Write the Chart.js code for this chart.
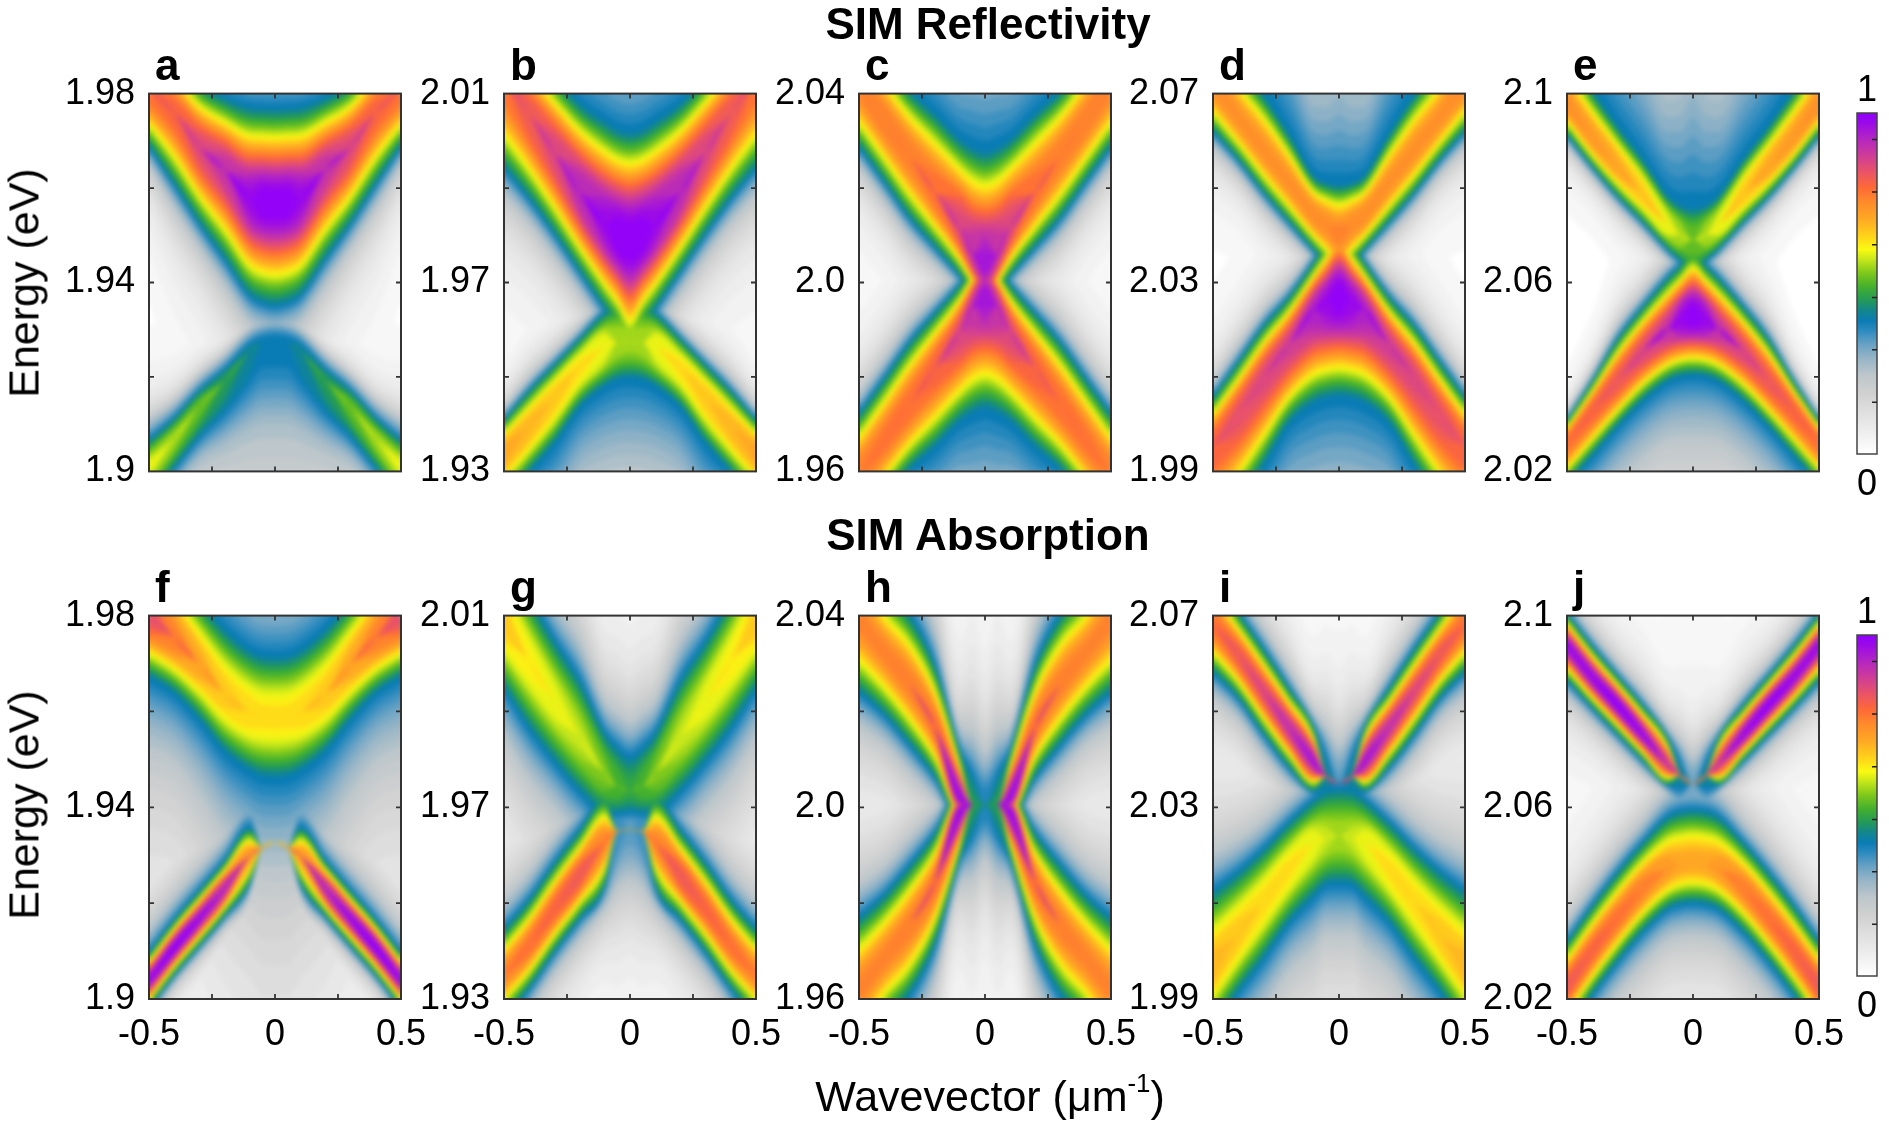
<!DOCTYPE html>
<html><head><meta charset="utf-8">
<script src="https://cdn.jsdelivr.net/npm/chart.js@4.4.1/dist/chart.umd.min.js"></script>
<style>
html,body{margin:0;padding:0;background:#fff;}
body{width:1889px;height:1123px;position:relative;overflow:hidden;font-family:'Liberation Sans',Arial,Helvetica,sans-serif;}
.t{position:absolute;white-space:nowrap;color:#000;line-height:1;}
.b{font-weight:bold;}
sup{font-size:0.6em;vertical-align:0.75em;line-height:0;}
</style></head><body>
<script>
// ---------------- data ----------------
const K = [-0.5,-0.4,-0.3,-0.2,-0.1,-0.05,0,0.05,0.1,0.2,0.3,0.4,0.5];
const xTickVals = [-0.5,-0.25,0,0.25,0.5];
const xTickLabels = ['-0.5','','0','','0.5'];
const eMin = [1.90,1.93,1.96,1.99,2.02];
const eMax = [1.98,2.01,2.04,2.07,2.10];
const yTicks = [[1.90,1.92,1.94,1.96,1.98],[1.93,1.95,1.97,1.99,2.01],[1.96,1.98,2.00,2.02,2.04],[1.99,2.01,2.03,2.05,2.07],[2.02,2.04,2.06,2.08,2.10]];
const yLabels = [['1.9','','1.94','','1.98'],['1.93','','1.97','','2.01'],['1.96','','2.0','','2.04'],['1.99','','2.03','','2.07'],['2.02','','2.06','','2.1']];
const panelLetters = ['a','b','c','d','e','f','g','h','i','j'];
const rowTitles = ['SIM Reflectivity','SIM Absorption'];
const cbRange = [0,1];
const cbTicks = [0.152,0.306,0.459,0.614,0.768,0.922];

// band ridge (Mid), lower/upper edge (Lo/Hi, eV) and ridge value (Pk) at each K
const aUpMid=[1.9807,1.9760,1.9687,1.9639,1.9577,1.9570,1.9567,1.9570,1.9577,1.9639,1.9687,1.9760,1.9807];
const aUpLo =[1.9689,1.9608,1.9525,1.9450,1.9373,1.9358,1.9352,1.9358,1.9373,1.9450,1.9525,1.9608,1.9689];
const aUpHi =[1.9937,1.9880,1.9820,1.9790,1.9770,1.9768,1.9767,1.9768,1.9770,1.9790,1.9820,1.9880,1.9937];
const aUpPk =[0.78,0.80,0.85,0.90,0.97,1.00,1.00,1.00,0.97,0.90,0.85,0.80,0.78];
const aDnMid=[1.9008,1.9070,1.9138,1.9193,1.9255,1.9272,1.9275,1.9272,1.9255,1.9193,1.9138,1.9070,1.9008];
const aDnLo =[1.889,1.896,1.902,1.905,1.908,1.909,1.909,1.909,1.908,1.905,1.902,1.896,1.889];
const aDnHi =[1.9105,1.9145,1.9200,1.9245,1.9300,1.9315,1.9320,1.9315,1.9300,1.9245,1.9200,1.9145,1.9105];
const aDnPk =[0.60,0.56,0.52,0.46,0.42,0.40,0.40,0.40,0.42,0.46,0.52,0.56,0.60];

const bUpMid=[2.0133,2.0057,1.9975,1.9892,1.9823,1.9799,1.9789,1.9799,1.9823,1.9892,1.9975,2.0057,2.0133];
const bUpLo =[1.9944,1.9878,1.9803,1.9723,1.9644,1.9605,1.9550,1.9605,1.9644,1.9723,1.9803,1.9878,1.9944];
const bUpHi =[2.0243,2.0188,2.0133,2.0078,2.0040,2.0023,2.0016,2.0023,2.0040,2.0078,2.0133,2.0188,2.0243];
const bUpPk =[0.78,0.82,0.86,0.92,0.97,1.00,1.00,1.00,0.97,0.92,0.86,0.82,0.78];
const bDnMid=[1.9341,1.9396,1.9458,1.9520,1.9565,1.9573,1.9575,1.9573,1.9565,1.9520,1.9458,1.9396,1.9341];
const bDnLo =[1.9238,1.9300,1.9362,1.9438,1.9482,1.9496,1.9500,1.9496,1.9482,1.9438,1.9362,1.9300,1.9238];
const bDnHi =[1.9410,1.9472,1.9527,1.9582,1.9637,1.9655,1.9665,1.9655,1.9637,1.9582,1.9527,1.9472,1.9410];
const bDnPk =[0.70,0.68,0.66,0.63,0.60,0.56,0.55,0.56,0.60,0.63,0.66,0.68,0.70];

const cUpMid=[2.0420,2.0344,2.0268,2.0192,2.0115,2.0060,2.0034,2.0060,2.0115,2.0192,2.0268,2.0344,2.0420];
const cUpLo =[2.0288,2.0213,2.0137,2.0075,2.0013,1.9975,1.9930,1.9975,2.0013,2.0075,2.0137,2.0213,2.0288];
const cUpHi =[2.0522,2.0467,2.0405,2.0357,2.0302,2.0285,2.0275,2.0285,2.0302,2.0357,2.0405,2.0467,2.0522];
const cUpPk =[0.75,0.76,0.76,0.78,0.85,0.90,0.95,0.90,0.85,0.78,0.76,0.76,0.75];
const cDnMid=[1.9590,1.9666,1.9742,1.9818,1.9895,1.9950,1.9976,1.9950,1.9895,1.9818,1.9742,1.9666,1.9590];
const cDnLo =[1.9488,1.9543,1.9605,1.9653,1.9708,1.9725,1.9735,1.9725,1.9708,1.9653,1.9605,1.9543,1.9488];
const cDnHi =[1.9722,1.9797,1.9873,1.9935,1.9997,2.0035,2.0080,2.0035,1.9997,1.9935,1.9873,1.9797,1.9722];
const cDnPk =[0.76,0.77,0.78,0.80,0.85,0.90,0.95,0.90,0.85,0.80,0.78,0.77,0.76];

const dUpMid=[2.0723,2.0648,2.0579,2.0511,2.0442,2.0421,2.0401,2.0421,2.0442,2.0511,2.0579,2.0648,2.0723];
const dUpLo =[2.0620,2.0559,2.0490,2.0428,2.0367,2.0335,2.0300,2.0335,2.0367,2.0428,2.0490,2.0559,2.0620];
const dUpHi =[2.0843,2.0758,2.0696,2.0614,2.0524,2.0510,2.0505,2.0510,2.0524,2.0614,2.0696,2.0758,2.0843];
const dUpPk =[0.74,0.73,0.73,0.73,0.74,0.74,0.75,0.74,0.74,0.73,0.73,0.73,0.74];
const dDnMid=[1.9955,2.0023,2.0099,2.0168,2.0243,2.0260,2.0270,2.0260,2.0243,2.0168,2.0099,2.0023,1.9955];
const dDnLo =[1.9756,1.9831,1.9914,2.0003,2.0047,2.0057,2.0061,2.0057,2.0047,2.0003,1.9914,1.9831,1.9756];
const dDnHi =[2.0058,2.0133,2.0209,2.0270,2.0346,2.0390,2.0440,2.0390,2.0346,2.0270,2.0209,2.0133,2.0058];
const dDnPk =[0.80,0.83,0.85,0.87,0.93,0.97,1.00,0.97,0.93,0.87,0.85,0.83,0.80];

const eUpMid=[2.0981,2.0905,2.0844,2.0786,2.0721,2.0700,2.0690,2.0700,2.0721,2.0786,2.0844,2.0905,2.0981];
const eUpLo =[2.0912,2.0844,2.0782,2.0727,2.0669,2.0645,2.0620,2.0645,2.0669,2.0727,2.0782,2.0844,2.0912];
const eUpHi =[2.1075,2.1005,2.0930,2.0860,2.0782,2.0762,2.0755,2.0762,2.0782,2.0860,2.0930,2.1005,2.1075];
const eUpPk =[0.74,0.72,0.70,0.66,0.60,0.56,0.52,0.56,0.60,0.66,0.70,0.72,0.74];
const eDnMid=[2.0262,2.0330,2.0392,2.0453,2.0501,2.0522,2.0529,2.0522,2.0501,2.0453,2.0392,2.0330,2.0262];
const eDnLo =[2.0173,2.0234,2.0296,2.0351,2.0392,2.0402,2.0405,2.0402,2.0392,2.0351,2.0296,2.0234,2.0173];
const eDnHi =[2.0310,2.0392,2.0481,2.0549,2.0611,2.0638,2.0670,2.0638,2.0611,2.0549,2.0481,2.0392,2.0310];
const eDnPk =[0.78,0.80,0.82,0.85,0.90,0.97,1.00,0.97,0.90,0.85,0.82,0.80,0.78];

const fUpMid=[1.9801,1.9753,1.9698,1.9636,1.9598,1.9590,1.9588,1.9590,1.9598,1.9636,1.9698,1.9753,1.9801];
const fUpLo =[1.9674,1.9640,1.9585,1.9519,1.9478,1.9466,1.9464,1.9466,1.9478,1.9519,1.9585,1.9640,1.9674];
const fUpHi =[1.9932,1.9891,1.9829,1.9770,1.9726,1.9714,1.9712,1.9714,1.9726,1.9770,1.9829,1.9891,1.9932];
const fUpPk =[0.83,0.76,0.70,0.66,0.64,0.63,0.63,0.63,0.64,0.66,0.70,0.76,0.83];
const fDnMid=[1.9038,1.9107,1.9168,1.9230,1.9299,1.9316,1.9327,1.9316,1.9299,1.9230,1.9168,1.9107,1.9038];
const fDnLo =[1.8980,1.9049,1.9110,1.9172,1.9241,1.9258,1.9269,1.9258,1.9241,1.9172,1.9110,1.9049,1.8980];
const fDnHi =[1.9096,1.9165,1.9226,1.9288,1.9357,1.9374,1.9385,1.9374,1.9357,1.9288,1.9226,1.9165,1.9096];
const fDnPk =[0.97,1.00,0.97,0.92,0.72,0.20,0.10,0.20,0.72,0.92,0.97,1.00,0.97];

const gUpMid=[2.0094,2.0005,1.9922,1.9846,1.9771,1.9743,1.9736,1.9743,1.9771,1.9846,1.9922,2.0005,2.0094];
const gUpLo =[1.9950,1.9867,1.9798,1.9736,1.9690,1.9684,1.9681,1.9684,1.9690,1.9736,1.9798,1.9867,1.9950];
const gUpHi =[2.0225,2.0136,2.0046,1.9963,1.9853,1.9828,1.9819,1.9828,1.9853,1.9963,2.0046,2.0136,2.0225];
const gUpPk =[0.66,0.62,0.60,0.57,0.53,0.50,0.47,0.50,0.53,0.57,0.60,0.62,0.66];
const gDnMid=[1.9350,1.9412,1.9488,1.9557,1.9626,1.9650,1.9653,1.9650,1.9626,1.9557,1.9488,1.9412,1.9350];
const gDnLo =[1.9260,1.9322,1.9398,1.9467,1.9536,1.9560,1.9563,1.9560,1.9536,1.9467,1.9398,1.9322,1.9260];
const gDnHi =[1.9445,1.9507,1.9583,1.9652,1.9721,1.9745,1.9748,1.9745,1.9721,1.9652,1.9583,1.9507,1.9445];
const gDnPk =[0.75,0.78,0.80,0.82,0.75,0.36,0.33,0.36,0.75,0.82,0.80,0.78,0.75];

const hUpMid=[2.0393,2.0324,2.0256,2.0167,2.0019,2.0005,2.0005,2.0005,2.0019,2.0167,2.0256,2.0324,2.0393];
const hUpLo =[2.0242,2.0194,2.0132,2.0064,1.9975,1.9980,1.9985,1.9980,1.9975,2.0064,2.0132,2.0194,2.0242];
const hUpHi =[2.0530,2.0455,2.0400,2.0297,2.0118,2.0090,2.0080,2.0090,2.0118,2.0297,2.0400,2.0455,2.0530];
const hUpPk =[0.75,0.75,0.76,0.78,0.97,0.45,0.38,0.45,0.97,0.78,0.76,0.75,0.75];
const hDnMid=[1.9617,1.9686,1.9754,1.9843,1.9991,2.0005,2.0005,2.0005,1.9991,1.9843,1.9754,1.9686,1.9617];
const hDnLo =[1.9480,1.9555,1.9610,1.9713,1.9892,1.9920,1.9930,1.9920,1.9892,1.9713,1.9610,1.9555,1.9480];
const hDnHi =[1.9768,1.9816,1.9878,1.9946,2.0035,2.0030,2.0025,2.0030,2.0035,1.9946,1.9878,1.9816,1.9768];
const hDnPk =[0.75,0.75,0.76,0.78,0.97,0.45,0.38,0.45,0.97,0.78,0.76,0.75,0.75];

const iUpMid=[2.0683,2.0618,2.0542,2.0467,2.0394,2.0364,2.0350,2.0364,2.0394,2.0467,2.0542,2.0618,2.0683];
const iUpLo =[2.0583,2.0528,2.0453,2.0384,2.0333,2.0310,2.0300,2.0310,2.0333,2.0384,2.0453,2.0528,2.0583];
const iUpHi =[2.0785,2.0707,2.0631,2.0550,2.0467,2.0430,2.0420,2.0430,2.0467,2.0550,2.0631,2.0707,2.0785];
const iUpPk =[0.78,0.82,0.85,0.90,0.95,0.42,0.33,0.42,0.95,0.90,0.85,0.82,0.78];
const iDnMid=[1.9965,2.0034,2.0103,2.0171,2.0226,2.0236,2.0240,2.0236,2.0226,2.0171,2.0103,2.0034,1.9965];
const iDnLo =[1.9841,1.9917,1.9986,2.0061,2.0116,2.0141,2.0144,2.0141,2.0116,2.0061,1.9986,1.9917,1.9841];
const iDnHi =[2.0123,2.0164,2.0212,2.0267,2.0315,2.0333,2.0336,2.0333,2.0315,2.0267,2.0212,2.0164,2.0123];
const iDnPk =[0.68,0.66,0.64,0.63,0.60,0.57,0.56,0.57,0.60,0.63,0.64,0.66,0.68];

const jUpMid=[2.0940,2.0872,2.0814,2.0752,2.0690,2.0666,2.0649,2.0666,2.0690,2.0752,2.0814,2.0872,2.0940];
const jUpLo =[2.0865,2.0807,2.0752,2.0697,2.0646,2.0620,2.0600,2.0620,2.0646,2.0697,2.0752,2.0807,2.0865];
const jUpHi =[2.1005,2.0937,2.0875,2.0814,2.0745,2.0712,2.0700,2.0712,2.0745,2.0814,2.0875,2.0937,2.1005];
const jUpPk =[0.97,0.98,1.00,0.97,0.88,0.42,0.32,0.42,0.88,0.97,1.00,0.98,0.97];
const jDnMid=[2.0224,2.0300,2.0368,2.0430,2.0471,2.0481,2.0485,2.0481,2.0471,2.0430,2.0368,2.0300,2.0224];
const jDnLo =[2.0135,2.0210,2.0279,2.0341,2.0389,2.0399,2.0402,2.0399,2.0389,2.0341,2.0279,2.0210,2.0135];
const jDnHi =[2.0320,2.0395,2.0464,2.0526,2.0580,2.0591,2.0594,2.0591,2.0580,2.0526,2.0464,2.0395,2.0320];
const jDnPk =[0.82,0.80,0.78,0.76,0.72,0.70,0.70,0.70,0.72,0.76,0.78,0.80,0.82];

const PANELS = [
  [[aUpMid,aUpLo,aUpHi,aUpPk],[aDnMid,aDnLo,aDnHi,aDnPk]],
  [[bUpMid,bUpLo,bUpHi,bUpPk],[bDnMid,bDnLo,bDnHi,bDnPk]],
  [[cUpMid,cUpLo,cUpHi,cUpPk],[cDnMid,cDnLo,cDnHi,cDnPk]],
  [[dUpMid,dUpLo,dUpHi,dUpPk],[dDnMid,dDnLo,dDnHi,dDnPk]],
  [[eUpMid,eUpLo,eUpHi,eUpPk],[eDnMid,eDnLo,eDnHi,eDnPk]],
  [[fUpMid,fUpLo,fUpHi,fUpPk],[fDnMid,fDnLo,fDnHi,fDnPk]],
  [[gUpMid,gUpLo,gUpHi,gUpPk],[gDnMid,gDnLo,gDnHi,gDnPk]],
  [[hUpMid,hUpLo,hUpHi,hUpPk],[hDnMid,hDnLo,hDnHi,hDnPk]],
  [[iUpMid,iUpLo,iUpHi,iUpPk],[iDnMid,iDnLo,iDnHi,iDnPk]],
  [[jUpMid,jUpLo,jUpHi,jUpPk],[jDnMid,jDnLo,jDnHi,jDnPk]]
];

// ---------------- style ----------------
// per band: [profile exponent, lower-side tail stretch, upper-side tail stretch, value at Lo/Hi edge]
const STY = [
  [[2.3,0.7,1.5,0.4],[2.0,2.0,0.6,0.25]],
  [[2.5,0.7,2.5,0.4],[2.5,4.0,0.7,0.4]],
  [[2.5,0.7,3.0,0.4],[2.5,3.0,0.7,0.4]],
  [[2.5,0.7,6.0,0.4],[2.5,3.5,0.7,0.4]],
  [[2.5,0.7,7.0,0.4],[2.5,3.0,0.7,0.4]],
  [[2.2,2.5,2.0,0.4],[2.2,0.8,2.0,0.4]],
  [[2.2,1.2,1.0,0.4],[2.2,1.0,1.2,0.4]],
  [[2.2,0.9,1.2,0.4],[2.2,1.2,0.9,0.4]],
  [[2.2,1.0,1.0,0.4],[2.2,1.5,0.9,0.4]],
  [[2.2,1.0,1.0,0.4],[2.2,1.5,0.9,0.4]]
];
const CM = [[0,'#ffffff'],[0.06,'#efefef'],[0.12,'#e0e0e0'],[0.18,'#d0d0d0'],[0.23,'#bec7cb'],[0.28,'#97b5c6'],
  [0.32,'#6aa3c4'],[0.36,'#2f8cbf'],[0.39,'#0a7cb5'],[0.42,'#12868e'],[0.45,'#22995a'],[0.49,'#43b02e'],
  [0.53,'#7dc81c'],[0.57,'#c5e61a'],[0.60,'#fafa12'],[0.64,'#ffd21a'],[0.69,'#ffa824'],[0.74,'#ff8a2a'],
  [0.78,'#ff6a36'],[0.83,'#e8526a'],[0.88,'#cc3a9c'],[0.93,'#b022c8'],[0.97,'#9c0ae8'],[1.0,'#9000ff']];
const LSTEP = 0.02;
const LV = []; for (let q = 1; q * LSTEP < 0.995; q++) LV.push(q * LSTEP);
const FONT = "'Liberation Sans', Arial, Helvetica, sans-serif";
const COLX = [149, 504, 859, 1213, 1567], PW = 252, ROWY = [88, 610], PH = 389;
const YW = 125, PT = 30, PR = 45;

function hex(c){return [parseInt(c.substr(1,2),16),parseInt(c.substr(3,2),16),parseInt(c.substr(5,2),16)];}
function cmap(v){
  v = Math.max(0, Math.min(1, v));
  for (let i = 1; i < CM.length; i++) {
    if (v <= CM[i][0]) {
      const a = CM[i-1], b = CM[i], f = (v - a[0]) / (b[0] - a[0]);
      const ca = hex(a[1]), cb = hex(b[1]);
      return 'rgb(' + ca.map((x, j) => Math.round(x + (cb[j] - x) * f)).join(',') + ')';
    }
  }
  return CM[CM.length-1][1];
}
function off(I, v, D, p, s, edge){
  if (I <= v) return 0;
  const te = Math.pow(Math.max(I / edge - 1, 0.3), 1 / p);
  const t = Math.pow(I / v - 1, 1 / p);
  const r = t / te;
  return D * (r <= 1 ? r : 1 + (r - 1) * s);
}
function txt(html, css, cls){
  const d = document.createElement('div'); d.className = 't ' + (cls || ''); d.innerHTML = html; d.style.cssText = css; document.body.appendChild(d);
}

Chart.defaults.font.family = FONT;
Chart.defaults.color = '#000';

// soften the contour steps inside the plot area (edge pixels replicated so borders do not fade)
const smoothPlugin = { id:'smooth', afterDatasetsDraw(c){
  const a = c.chartArea, r = c.currentDevicePixelRatio || 1;
  const sx = Math.round(a.left * r), sy = Math.round(a.top * r);
  const w = Math.round((a.right - a.left) * r), h = Math.round((a.bottom - a.top) * r), pad = Math.round(10 * r);
  const off = document.createElement('canvas'); off.width = w + 2 * pad; off.height = h + 2 * pad;
  const o = off.getContext('2d');
  o.fillStyle = '#fff'; o.fillRect(0, 0, off.width, off.height);
  o.drawImage(c.canvas, sx, sy, w, h, pad, pad, w, h);
  o.drawImage(c.canvas, sx, sy, 2, h, 0, pad, pad, h);
  o.drawImage(c.canvas, sx + w - 2, sy, 2, h, pad + w, pad, pad, h);
  o.drawImage(off, pad, pad, w, 2, pad, 0, w, pad);
  o.drawImage(off, pad, pad + h - 2, w, 2, pad, pad + h, w, pad);
  const ctx = c.ctx; ctx.save(); ctx.setTransform(1, 0, 0, 1, 0, 0);
  ctx.clearRect(sx, sy, w, h);
  ctx.beginPath(); ctx.rect(sx, sy, w, h); ctx.clip();
  ctx.filter = 'blur(' + (2.6 * r) + 'px)';
  ctx.drawImage(off, sx - pad, sy - pad);
  ctx.restore();
}};
const framePlugin = { id:'frame',
  afterDraw(c){
    const {ctx, chartArea:a} = c, x = c.scales.x, y = c.scales.y;
    ctx.save(); ctx.strokeStyle = '#333'; ctx.lineWidth = 2;
    ctx.strokeRect(a.left, a.top, a.right - a.left, a.bottom - a.top);
    ctx.lineWidth = 1.8; ctx.beginPath();
    x.ticks.forEach(t => { const px = x.getPixelForValue(t.value); if (px < a.left + 2 || px > a.right - 2) return;
      ctx.moveTo(px, a.bottom); ctx.lineTo(px, a.bottom - 5); ctx.moveTo(px, a.top); ctx.lineTo(px, a.top + 5); });
    y.ticks.forEach(t => { const py = y.getPixelForValue(t.value); if (py < a.top + 2 || py > a.bottom - 2) return;
      ctx.moveTo(a.left, py); ctx.lineTo(a.left + 5, py); ctx.moveTo(a.right, py); ctx.lineTo(a.right - 5, py); });
    ctx.stroke(); ctx.restore();
  } };

PANELS.forEach((bands, n) => {
  const col = n % 5, row = Math.floor(n / 5);
  const xh = row ? 70 : 30;
  const cv = document.createElement('canvas');
  cv.width = YW + PW + PR; cv.height = PT + PH + xh;
  cv.style.cssText = 'position:absolute;left:' + (COLX[col] - YW) + 'px;top:' + (ROWY[row] - PT) + 'px;';
  document.body.appendChild(cv);
  const datasets = [];
  for (let li = LV.length - 1; li >= 0; li--) {
    const v = LV[li], color = cmap(Math.min(1, v + LSTEP / 2));
    bands.forEach((b, bi) => {
      const [mid, lo, hi, pk] = b, [p, sLo, sHi, edge] = STY[n][bi];
      const up = K.map((k, i) => ({x:k, y: mid[i] + off(pk[i], v, Math.max(hi[i] - mid[i], 5e-4), p, sHi, edge)}));
      const dn = K.map((k, i) => ({x:k, y: mid[i] - off(pk[i], v, Math.max(mid[i] - lo[i], 5e-4), p, sLo, edge)}));
      const idx = datasets.length;
      datasets.push({data: up, fill: idx + 1, backgroundColor: color});
      datasets.push({data: dn, fill: false, backgroundColor: color});
    });
  }
  new Chart(cv, {
    type: 'line',
    data: {datasets},
    options: {
      responsive: false, animation: false, events: [],
      layout: {padding: {top: PT, right: PR, left: 0, bottom: 0}, autoPadding: false},
      elements: {line: {borderWidth: 0, borderColor: 'rgba(0,0,0,0)', cubicInterpolationMode: 'monotone'},
                 point: {radius: 0, hoverRadius: 0, hitRadius: 0}},
      plugins: {legend: {display: false}, tooltip: {enabled: false}, filler: {propagate: false}},
      scales: {
        x: {type: 'linear', min: -0.5, max: 0.5,
            afterBuildTicks: s => { s.ticks = xTickVals.map(v => ({value: v})); },
            afterFit: s => { s.height = xh; },
            grid: {display: false, drawTicks: false}, border: {display: false},
            ticks: {display: row === 1, padding: 14, autoSkip: false, maxRotation: 0, color: '#000',
                    font: {size: 36, family: FONT}, callback: (v, i) => xTickLabels[i]}},
        y: {type: 'linear', min: eMin[col], max: eMax[col],
            afterBuildTicks: s => { s.ticks = yTicks[col].map(v => ({value: v})); },
            afterFit: s => { s.width = YW; },
            grid: {display: false, drawTicks: false}, border: {display: false},
            ticks: {padding: 14, autoSkip: false, color: '#000', font: {size: 36, family: FONT},
                    callback: (v, i) => yLabels[col][i]}}
      }
    },
    plugins: [smoothPlugin, framePlugin]
  });
  txt(panelLetters[n], 'left:' + (COLX[col] + 6) + 'px;top:' + (ROWY[row] - 45) + 'px;font-size:44px;', 'b');
});

// colour bars
const cbFrame = { id:'cbFrame', afterDraw(c){
  const {ctx, chartArea:a} = c, y = c.scales.y;
  ctx.save(); ctx.strokeStyle = '#444'; ctx.lineWidth = 1.5;
  ctx.strokeRect(a.left, a.top, a.right - a.left, a.bottom - a.top);
  ctx.strokeStyle = '#222'; ctx.beginPath();
  cbTicks.forEach(v => { const py = y.getPixelForValue(v); ctx.moveTo(a.right, py); ctx.lineTo(a.right - 5, py); });
  ctx.stroke(); ctx.restore(); } };
[0, 1].forEach(row => {
  const cv = document.createElement('canvas'); cv.width = 24; cv.height = 345;
  cv.style.cssText = 'position:absolute;left:1855px;top:' + (ROWY[row] + 23) + 'px;';
  document.body.appendChild(cv);
  new Chart(cv, {
    type: 'bar',
    data: {labels: [''], datasets: [{data: [cbRange], borderWidth: 0, barPercentage: 1, categoryPercentage: 1,
      backgroundColor: ctx => { const ch = ctx.chart, a = ch.chartArea; if (!a) return '#ccc';
        const g = ch.ctx.createLinearGradient(0, a.bottom, 0, a.top); CM.forEach(s => g.addColorStop(s[0], s[1])); return g; }}]},
    options: {responsive: false, animation: false, events: [],
      layout: {padding: 2, autoPadding: false},
      scales: {x: {display: false}, y: {display: false, min: cbRange[0], max: cbRange[1]}},
      plugins: {legend: {display: false}, tooltip: {enabled: false}}},
    plugins: [cbFrame]
  });
  txt(String(cbRange[1]), 'left:1867px;top:' + (ROWY[row] - 17) + 'px;font-size:36px;transform:translateX(-50%);');
  txt(String(cbRange[0]), 'left:1867px;top:' + (ROWY[row] + 377) + 'px;font-size:36px;transform:translateX(-50%);');
});

// titles & axis labels
txt(rowTitles[0], 'left:988px;top:2px;font-size:44px;transform:translateX(-50%);', 'b');
txt(rowTitles[1], 'left:988px;top:513px;font-size:44px;transform:translateX(-50%);', 'b');
txt('Energy (eV)', 'left:24px;top:283px;font-size:43px;transform:translate(-50%,-50%) rotate(-90deg);');
txt('Energy (eV)', 'left:24px;top:805px;font-size:43px;transform:translate(-50%,-50%) rotate(-90deg);');
txt('Wavevector (μm<sup>-1</sup>)', 'left:990px;top:1075px;font-size:43px;transform:translateX(-50%);');
</script>
</body></html>
